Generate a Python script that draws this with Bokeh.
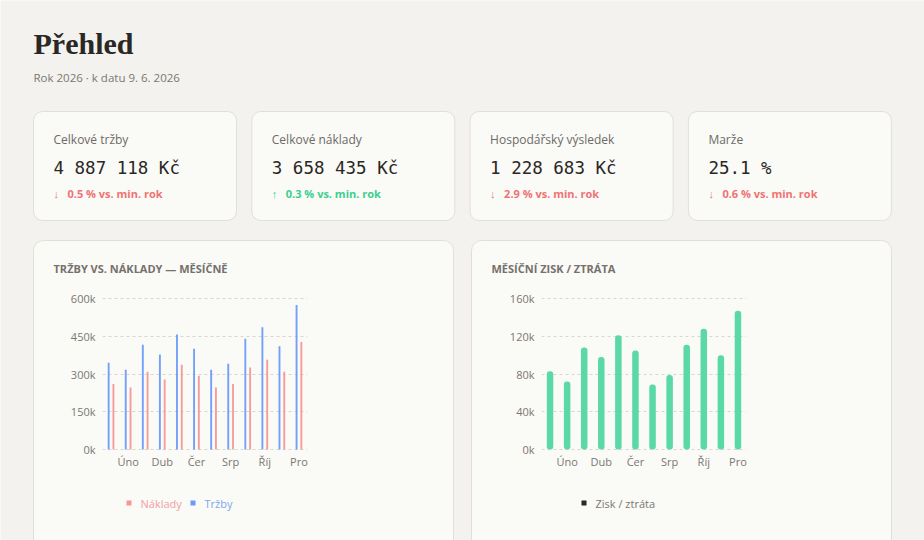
from bokeh.plotting import figure
from bokeh.models import (ColumnDataSource, Range1d, FixedTicker, CustomJSTickFormatter, GridBox)
from bokeh.transform import dodge
from bokeh.core.properties import value
from bokeh.embed import file_html
from bokeh.resources import INLINE

# ---- data -------------------------------------------------------------
months = ["Led", "Úno", "Bře", "Dub", "Kvě", "Čer", "Čvc", "Srp", "Zář", "Říj", "Lis", "Pro"]
revenue = [345000, 317000, 416000, 377000, 457000, 400000, 317000, 341000, 440000, 486000, 410000, 574000]
costs = [260000, 246000, 309000, 278000, 337000, 293000, 246000, 260000, 326000, 357000, 309000, 427000]
profit = [83000, 72000, 108000, 98000, 121000, 105000, 69000, 79000, 111000, 128000, 100000, 147000]

kpi_labels = ["Celkové tržby", "Celkové náklady", "Hospodářský výsledek", "Marže"]
kpi_values = ["4 887 118 Kč", "3 658 435 Kč", "1 228 683 Kč", "25.1 %"]
kpi_deltas = ["0.5 % vs. min. rok", "0.3 % vs. min. rok", "2.9 % vs. min. rok", "0.6 % vs. min. rok"]
kpi_up = [False, True, False, False]

chart_titles = ["TRŽBY VS. NÁKLADY — MĚSÍČNĚ", "MĚSÍČNÍ ZISK / ZTRÁTA"]
left_ticks = [0, 150000, 300000, 450000, 600000]
right_ticks = [0, 40000, 80000, 120000, 160000]
shown_months = [1, 3, 5, 7, 9, 11]

# ---- styles -----------------------------------------------------------
PAGE = "#f3f2ee"
CARD = "#fafaf7"
CARD_LINE = "#e2dfd8"
INK = "#2a2724"
MUTED = "#7a7772"
RED = "#f07272"
GREEN = "#3ccf8e"
BLUE_BAR = "#5b8ff9"
RED_BAR = "#f78b8b"
GREEN_BAR = "#5ad8a6"
SANS = "Open Sans"

# ---- page background: header, cards, headings, legends ----------------------
bg = figure(frame_width=924, frame_height=540, x_range=Range1d(0, 924), y_range=Range1d(540, 0),
            x_axis_location=None, y_axis_location=None, toolbar_location=None,
            output_backend="svg", min_border=0)
bg.frame_align = False
bg.grid.visible = False
bg.outline_line_color = None
bg.background_fill_color = PAGE
bg.border_fill_color = PAGE

bg.text(x=[33], y=[42.5], text=["Přehled"], text_font=value("Liberation Serif"),
        text_font_style="bold", text_font_size="30px", text_color=INK, text_baseline="middle")
bg.text(x=[33], y=[77], text=["Rok 2026 · k datu 9. 6. 2026"], text_font=value(SANS),
        text_font_size="11.5px", text_color=MUTED, text_baseline="middle")

card_x = [33 + i * 218.3 for i in range(4)]
bg.quad(left=card_x, right=[c + 203 for c in card_x], top=111, bottom=220,
        fill_color=CARD, line_color=CARD_LINE, line_width=1, border_radius=9)

text_x = [c + 20 for c in card_x]
bg.text(x=text_x, y=139, text=kpi_labels, text_font=value(SANS), text_font_size="12px",
        text_color="#6d6a66", text_baseline="middle")
bg.text(x=text_x, y=167, text=kpi_values, text_font=value("DejaVu Sans Mono"),
        text_font_size="17.5px", text_color=INK, text_baseline="middle")
delta_colors = [GREEN if up else RED for up in kpi_up]
bg.text(x=text_x, y=193, text=["↑" if up else "↓" for up in kpi_up], text_font=value(SANS),
        text_font_size="11px", text_color=delta_colors, text_baseline="middle")
bg.text(x=[t + 14 for t in text_x], y=193, text=kpi_deltas, text_font=value(SANS),
        text_font_size="11px", text_font_style="bold", text_color=delta_colors,
        text_baseline="middle")

# chart cards (running past the bottom edge) and their headings
chart_card_x = [33, 471]
bg.quad(left=chart_card_x, right=[c + 420 for c in chart_card_x], top=240, bottom=600,
        fill_color=CARD, line_color=CARD_LINE, line_width=1, border_radius=10)
bg.text(x=[c + 20 for c in chart_card_x], y=268, text=chart_titles, text_font=value(SANS),
        text_font_size="11px", text_font_style="bold", text_color="#75716c",
        text_baseline="middle")

# legends under the charts
legend_labels = ["Náklady", "Tržby", "Zisk / ztráta"]
legend_swatch = [RED_BAR, BLUE_BAR, "#111111"]
legend_text = ["#f3a0a0", "#7ea6ee", MUTED]
legend_x = [126, 190, 581]
bg.rect(x=[lx + 2.5 for lx in legend_x], y=502.5, width=5, height=5, fill_color=legend_swatch,
        fill_alpha=0.9, line_color=None)
bg.text(x=[lx + 14 for lx in legend_x], y=503, text=legend_labels, text_font=value(SANS),
        text_font_size="11px", text_color=legend_text, text_baseline="middle")


# ---- chart panels (transparent, laid over the cards) -------------------------
def chart(ylo, yhi, ticks, border_left, border_right):
    p = figure(frame_width=205, frame_height=153, x_range=Range1d(-0.5, 11.5),
               y_range=Range1d(ylo, yhi), min_border_left=border_left,
               min_border_right=border_right, min_border_top=67, min_border_bottom=90,
               toolbar_location=None, output_backend="svg")
    p.frame_align = False
    p.background_fill_alpha = 0
    p.border_fill_alpha = 0
    p.outline_line_color = None
    p.xgrid.visible = False
    p.ygrid.grid_line_color = "#d9d6cf"
    p.ygrid.grid_line_dash = "3 3"
    p.ygrid.grid_line_width = 1
    p.yaxis.ticker = FixedTicker(ticks=ticks)
    p.yaxis.formatter = CustomJSTickFormatter(code="return (tick / 1000).toFixed(0) + 'k'")
    p.xaxis.ticker = FixedTicker(ticks=shown_months)
    p.xaxis.major_label_overrides = {i: months[i] for i in shown_months}
    for ax in (p.xaxis, p.yaxis):
        ax.axis_line_color = None
        ax.major_tick_line_color = None
        ax.minor_tick_line_color = None
        ax.major_tick_out = 0
        ax.major_tick_in = 0
        ax.minor_tick_out = 0
        ax.major_label_text_font = SANS
        ax.major_label_text_font_size = "11px"
        ax.major_label_text_color = MUTED
    p.yaxis.major_label_standoff = 7
    p.xaxis.major_label_standoff = 3
    return p


src = ColumnDataSource(dict(x=list(range(len(months))), month=months,
                            revenue=revenue, costs=costs, profit=profit))

left = chart(-4000, 604000, left_ticks, 102, 155)
left.vbar(x=dodge("x", -0.14, range=left.x_range), top="revenue", width=0.11,
          source=src, fill_color=BLUE_BAR, fill_alpha=0.85, line_color=None)
left.vbar(x=dodge("x", 0.14, range=left.x_range), top="costs", width=0.11,
          source=src, fill_color=RED_BAR, fill_alpha=0.85, line_color=None)

right = chart(-1060, 161060, right_ticks, 79, 178)
right.vbar(x="x", top="profit", width=0.38, source=src, fill_color=GREEN_BAR,
           line_color=None, border_radius=3)

page = GridBox(children=[(bg, 0, 0, 2, 2), (left, 1, 0, 1, 1), (right, 1, 1, 1, 1)],
               rows=["230px", "310px"], cols=["462px", "462px"])

with open("out.html", "w") as f:
    f.write(file_html(page, INLINE, title="Přehled"))
